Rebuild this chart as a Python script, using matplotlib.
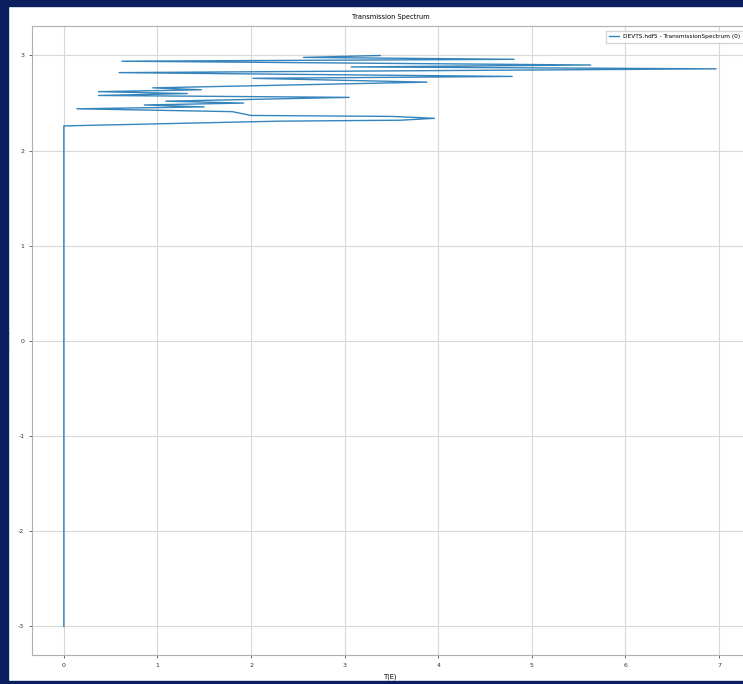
import numpy as np
import matplotlib
matplotlib.use("Agg")
import matplotlib.pyplot as plt
import matplotlib.patches as patches

# transmission (x) against energy (y)
trans = [0, 0, 2.3, 3.6, 3.96, 3.5, 2.0, 1.8, 0.14, 1.50, 0.86, 1.92, 1.09, 3.05,
         0.37, 1.32, 0.37, 1.47, 0.95, 3.88, 2.02, 4.79, 0.59, 6.97, 3.07, 5.63,
         0.62, 4.81, 2.56, 3.38]
energy = [-3, 2.26, 2.31, 2.32, 2.34, 2.36, 2.37, 2.41, 2.44, 2.46, 2.48, 2.50,
          2.52, 2.56, 2.58, 2.60, 2.62, 2.64, 2.66, 2.72, 2.76, 2.78, 2.82, 2.86,
          2.88, 2.90, 2.94, 2.96, 2.98, 3.00]
x_ticks = [0, 1, 2, 3, 4, 5, 6, 7]
y_ticks = [-3, -2, -1, 0, 1, 2, 3]
label = "DEVTS.hdf5 - TransmissionSpectrum (0)"

plt.rcParams['axes.unicode_minus'] = False
plt.rcParams['font.family'] = ['Liberation Sans Narrow', 'DejaVu Sans']

W, H = 743, 684
fig = plt.figure(figsize=(W / 100, H / 100), dpi=100)

# axes run just past the right edge like the cropped screenshot
left, right, top, bottom = 32, 749, 26, 655
ax = fig.add_axes([left / W, (H - bottom) / H, (right - left) / W, (bottom - top) / H])

ax.plot(trans, energy, color="#1f77b4", linewidth=1.0, alpha=0.9, label=label)
ax.set_xlim(-0.34, (right - 64) / 93.57)
ax.set_ylim(-3.3, 3.31)
ax.set_xticks(x_ticks)
ax.set_yticks(y_ticks)
ax.grid(True, color="#d8d8d8", linewidth=0.8)
for s in ax.spines.values():
    s.set_color("#b0b0b0")
ax.tick_params(labelsize=4.5, colors="#333333", length=2, width=0.5)

ax.set_title("Transmission Spectrum", fontsize=4.8, pad=5)
ax.set_xlabel("T(E)", fontsize=4.8, labelpad=4)
ax.set_ylabel("E (eV)", fontsize=4.8, labelpad=6)
leg = ax.legend(loc="upper right", fontsize=4.2, frameon=True, fancybox=False,
                edgecolor="#cccccc", borderpad=0.6, handlelength=1.6,
                bbox_to_anchor=(0.997, 0.997))

# dark frame around the screenshot
navy = "#0b1f5e"
fig.patches.append(patches.Rectangle((0, 0), 8 / W, 1, transform=fig.transFigure,
                                     color=navy, zorder=10))
fig.patches.append(patches.Rectangle((0, 1 - 6 / H), 1, 6 / H, transform=fig.transFigure,
                                     color=navy, zorder=10))
fig.patches.append(patches.Rectangle((0, 0), 1, 3 / H, transform=fig.transFigure,
                                     color=navy, zorder=10))

fig.savefig("out.png", dpi=100)
